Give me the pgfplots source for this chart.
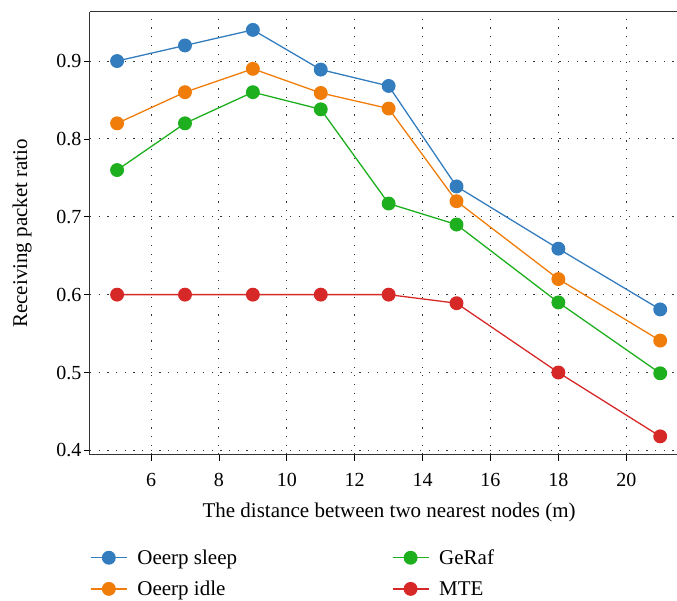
\documentclass[border=0pt]{standalone}
\usepackage{fontspec}
\setmainfont{Liberation Serif}
\usepackage{pgfplots}
\pgfplotsset{compat=1.18}
\definecolor{cblue}{RGB}{51,125,190}
\definecolor{corange}{RGB}{240,125,10}
\definecolor{cgreen}{RGB}{30,175,30}
\definecolor{cred}{RGB}{215,40,40}
\begin{document}
\begin{tikzpicture}[x=1pt,y=1pt]
\begin{axis}[
    scale only axis,
    width=587pt, height=443pt,
    xmin=4.2, xmax=21.48,
    ymin=0.3945, ymax=0.963,
    axis x line*=box,
    axis y line*=left,
    xtick pos=bottom,
    xtick={6,8,...,20},
    ytick={0.4,0.5,...,0.9},
    yticklabel style={/pgf/number format/fixed, /pgf/number format/precision=1, xshift=1pt},
    xticklabel style={yshift=-9pt},
    tick align=outside,
    major tick length=6pt,
    tick style={black, line width=0.8pt},
    axis line style={black!80, line width=1pt},
    grid=major,
    major grid style={black!80, line width=0.9pt, dash pattern=on 1.2pt off 7.5pt},
    tick label style={font=\fontsize{20}{24}\selectfont},
    /pgf/number format/assume math mode=true,
    xlabel={The distance between two nearest nodes (m)},
    ylabel={Receiving packet ratio},
    every axis x label/.style={at={(axis description cs:0.51,0)}, anchor=center, yshift=-58pt,
        font=\fontsize{21}{25}\selectfont},
    every axis y label/.style={at={(axis description cs:-0.1158,0.5)}, anchor=center, rotate=90,
        font=\fontsize{21}{25}\selectfont},
    every axis plot/.append style={line width=1.3pt, mark=*, mark size=6.3pt, mark options={solid}},
    legend columns=2,
    transpose legend,
    legend cell align=left,
    legend style={at={(-0.005,-0.205)}, anchor=north west, draw=none, fill=none,
        font=\fontsize{21}{25}\selectfont, row sep=11pt,
        /tikz/every odd column/.append style={column sep=8pt},
        /tikz/every even column/.append style={column sep=153pt}},
    legend image code/.code={
        \draw[mark repeat=2, mark phase=2] plot coordinates {(0pt,0pt) (18pt,0pt) (36pt,0pt)};
    },
]
\addplot[color=cblue] coordinates {
    (5,0.900) (7,0.920) (9,0.940) (11,0.889) (13,0.868) (15,0.739) (18,0.659) (21,0.581)
};
\addplot[color=corange] coordinates {
    (5,0.820) (7,0.860) (9,0.890) (11,0.859) (13,0.839) (15,0.720) (18,0.620) (21,0.541)
};
\addplot[color=cgreen] coordinates {
    (5,0.760) (7,0.820) (9,0.860) (11,0.838) (13,0.717) (15,0.690) (18,0.590) (21,0.499)
};
\addplot[color=cred] coordinates {
    (5,0.600) (7,0.600) (9,0.600) (11,0.600) (13,0.600) (15,0.589) (18,0.500) (21,0.418)
};
\legend{Oeerp sleep, Oeerp idle, GeRaf, MTE}
\end{axis}
\path[use as bounding box] (-90,-144) rectangle (587,455);
\end{tikzpicture}
\end{document}
